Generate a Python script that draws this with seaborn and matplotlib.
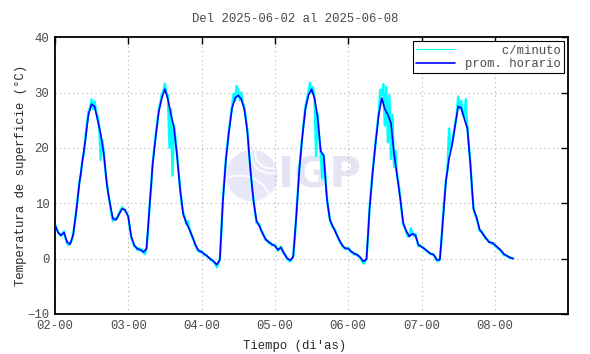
import numpy as np
import pandas as pd
import seaborn as sns
import matplotlib.pyplot as plt
from matplotlib.patches import Ellipse, Arc

# promedio horario (degC), desde 2025-06-02 00h
hourly = [
    6.2, 4.8, 4.2, 4.7, 3.0, 2.6, 4.3, 8.5, 13.5, 17.5, 21.5, 26.0,
    27.9, 27.5, 25.0, 22.5, 19.0, 13.5, 10.0, 7.2, 7.0, 8.0, 9.0, 8.8,
    7.6, 4.0, 2.4, 1.8, 1.6, 1.2, 1.8, 9.5, 17.0, 22.0, 26.5, 29.0,
    30.6, 28.8, 26.0, 23.6, 18.5, 12.5, 8.0, 6.5, 5.3, 4.0, 2.5, 1.5,
    1.2, 0.8, 0.4, -0.1, -0.5, -1.1, -0.2, 10.5, 18.0, 23.0, 27.2, 29.0,
    29.5, 28.8, 27.0, 23.0, 16.0, 10.5, 6.8, 5.8, 4.5, 3.5, 3.0, 2.6,
    2.3, 1.6, 2.0, 1.0, 0.1, -0.3, 0.3, 7.5, 16.0, 22.0, 27.0, 29.5,
    30.6, 29.0, 25.5, 19.5, 18.5, 11.0, 7.0, 5.8, 4.6, 3.5, 2.4, 1.9,
    1.8, 1.3, 0.9, 0.7, 0.2, -0.5, -0.1, 9.0, 15.5, 21.0, 26.0, 29.0,
    27.0, 26.0, 24.5, 19.0, 15.0, 11.0, 6.5, 5.0, 4.0, 4.5, 4.2, 2.5,
    2.1, 1.8, 1.3, 0.9, 0.7, -0.2, -0.2, 7.0, 14.0, 18.0, 20.5, 24.0,
    27.5, 27.2, 25.3, 23.5, 17.0, 9.0, 7.5, 5.3, 4.5, 3.8, 3.0, 2.9,
    2.5, 2.0, 1.5, 0.8, 0.5, 0.2, 0.0,
]

# serie c/minuto (muestreada cada 30 min)
minute = [
    6.4, 5.3, 4.9, 4.3, 4.1, 4.6, 4.9, 3.6, 2.8, 2.4, 2.9, 3.2,
    4.5, 6.5, 8.8, 11.2, 13.8, 15.2, 17.9, 19.0, 22.0, 24.6, 26.6, 27.2,
    28.8, 27.0, 28.4, 26.5, 25.6, 24.0, 17.8, 21.5, 19.3, 16.0, 13.8, 11.5,
    10.2, 8.0, 6.8, 7.3, 7.2, 7.4, 8.3, 8.8, 9.3, 9.0, 8.6, 8.2,
    7.8, 5.5, 3.8, 3.0, 2.2, 2.0, 1.5, 1.9, 1.4, 1.7, 1.0, 0.8,
    2.0, 5.0, 9.8, 13.0, 17.3, 19.8, 22.4, 24.5, 27.0, 28.2, 29.8, 30.2,
    31.6, 30.0, 29.5, 20.0, 27.0, 15.0, 24.2, 21.5, 18.8, 15.5, 12.8, 10.0,
    8.3, 7.5, 6.2, 6.8, 5.6, 4.6, 3.8, 3.2, 2.3, 1.8, 1.3, 1.2,
    1.4, 1.0, 0.6, 0.7, 0.3, 0.1, -0.3, -0.2, -0.7, -0.9, -1.6, -0.8,
    0.0, 5.0, 10.8, 14.5, 18.3, 20.8, 23.4, 25.5, 27.6, 29.8, 28.5, 31.2,
    30.5, 28.6, 30.0, 28.2, 27.4, 25.3, 23.3, 19.5, 16.3, 13.0, 10.8, 8.4,
    6.5, 6.4, 6.2, 5.0, 4.8, 4.0, 3.3, 3.3, 2.8, 2.9, 2.4, 2.5,
    2.5, 2.0, 1.4, 1.8, 2.2, 1.4, 0.8, 0.5, -0.1, -0.3, -0.5, -0.2,
    0.5, 3.5, 7.8, 12.0, 16.3, 19.2, 22.4, 25.0, 27.5, 28.8, 30.2, 31.8,
    30.0, 31.0, 28.6, 18.5, 26.2, 22.0, 19.0, 14.5, 18.8, 15.0, 11.3, 8.8,
    7.3, 6.2, 5.6, 5.4, 4.8, 4.0, 3.3, 2.8, 2.6, 2.0, 1.7, 1.8,
    2.0, 1.6, 1.1, 1.2, 0.7, 0.9, 0.5, 0.5, 0.0, -0.4, -0.9, -0.6,
    0.1, 4.0, 9.3, 12.5, 15.8, 18.5, 21.4, 23.8, 26.5, 30.5, 29.5, 31.5,
    24.0, 31.0, 21.0, 29.5, 18.0, 26.0, 16.5, 19.5, 15.3, 13.5, 11.3, 8.5,
    6.2, 5.5, 4.8, 4.0, 4.2, 5.5, 4.8, 4.0, 4.5, 3.2, 2.2, 2.4,
    2.3, 2.0, 1.6, 1.5, 1.2, 1.0, 0.8, 0.9, 0.6, 0.2, -0.4, -0.5,
    -0.1, 3.0, 7.3, 11.0, 14.3, 16.0, 23.5, 19.5, 20.8, 22.5, 24.4, 26.0,
    29.3, 27.0, 28.5, 26.0, 25.6, 28.8, 23.8, 20.5, 17.3, 12.5, 9.3, 8.0,
    7.2, 6.3, 5.0, 5.0, 4.7, 4.0, 3.6, 3.5, 3.2, 2.8, 2.7, 2.8,
    2.3, 2.2, 1.8, 1.7, 1.3, 1.0, 0.6, 0.7, 0.4, 0.3, 0.1, 0.1,
    0.0,
]

day_ticks = [2, 3, 4, 5, 6, 7, 8]
day_labels = ["02-00", "03-00", "04-00", "05-00", "06-00", "07-00", "08-00"]
y_ticks = [-10, 0, 10, 20, 30, 40]

df_h = pd.DataFrame({"dia": 2 + np.arange(len(hourly)) / 24, "temp": hourly})
df_m = pd.DataFrame({"dia": 2 + np.arange(len(minute)) / 48, "temp": minute})

sns.set_theme(style="white")
plt.rcParams["font.family"] = ["Liberation Mono", "DejaVu Sans Mono"]
plt.rcParams["text.color"] = "#4a4a4a"

fig, ax = plt.subplots(figsize=(5.9, 3.54), dpi=100)
fig.subplots_adjust(left=0.093, right=0.963, bottom=0.113, top=0.895)

# marca de agua IGP
ax.add_patch(Ellipse((0.384, 0.50), 0.098, 0.18, transform=ax.transAxes,
                     color="#e8e8f8", zorder=0))
for r in (0.6, 0.8):
    ax.add_patch(Arc((0.42, 0.58), 0.098 * r, 0.18 * r, transform=ax.transAxes,
                     theta1=90, theta2=300, color="white", lw=1.2, zorder=0))
ax.add_patch(Arc((0.36, 0.40), 0.12, 0.2, transform=ax.transAxes,
                 theta1=10, theta2=120, color="white", lw=1.2, zorder=0))
ax.text(0.515, 0.50, "IGP", transform=ax.transAxes, ha="center", va="center",
        fontsize=31, fontweight="bold", family="DejaVu Sans",
        color="#e4e4f5", zorder=0)

sns.lineplot(data=df_m, x="dia", y="temp", ax=ax, color="#00ffff", lw=1.7,
             label="     c/minuto", zorder=2)
sns.lineplot(data=df_h, x="dia", y="temp", ax=ax, color="#0000ff", lw=1.2,
             label="prom. horario", zorder=3)

ax.set_xlim(2, 9)
ax.set_ylim(-10, 40)
ax.set_xticks(day_ticks)
ax.set_xticklabels(day_labels)
ax.set_yticks(y_ticks)
ax.tick_params(direction="in", top=True, right=True, length=5, width=1,
               labelsize=8.8, colors="black", labelcolor="#4a4a4a", pad=4)
ax.grid(True, color="#b0b0b0", linestyle=(0, (1, 3)), lw=0.8)
for s in ax.spines.values():
    s.set_color("black")
    s.set_linewidth(1.3)

fig.text(0.5, 0.946, "Del 2025-06-02 al 2025-06-08", fontsize=8.8,
         ha="center", va="center")
ax.set_xlabel("Tiempo (di'as)", fontsize=8.8)
ax.xaxis.set_label_coords(0.468, -0.095)
ax.set_ylabel("Temperatura de superficie (°C)", fontsize=8.8, labelpad=0)

leg = ax.legend(loc="upper right", fontsize=8.8, frameon=True, fancybox=False,
                framealpha=1, edgecolor="black", handlelength=3.2,
                borderpad=0.25, labelspacing=0.15, handletextpad=0.8,
                borderaxespad=0.35)
leg.get_frame().set_linewidth(0.8)
leg.get_lines()[0].set_linewidth(0.8)

fig.savefig("out.png", dpi=100)
